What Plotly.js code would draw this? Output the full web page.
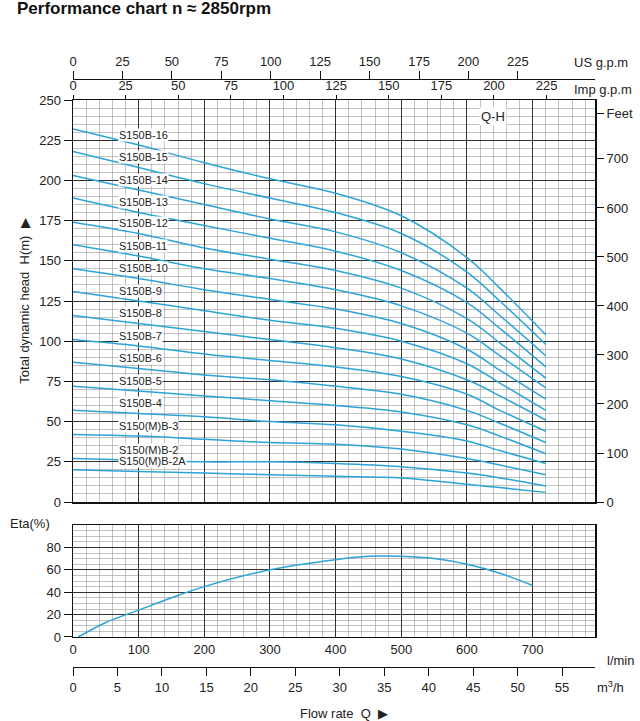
<!DOCTYPE html>
<html>
<head>
<meta charset="utf-8">
<script src="https://cdn.plot.ly/plotly-3.0.1.min.js"></script>
<style>body{margin:0;background:#fff}#chart{width:640px;height:721px}</style>
</head>
<body>
<div id="chart"></div>
<script>
// Q-H curves, flow in l/min
var flowQ = [0, 100, 200, 300, 400, 500, 600, 650, 720];
var modelNames = ['S150B-16','S150B-15','S150B-14','S150B-13','S150B-12','S150B-11','S150B-10','S150B-9',
                  'S150B-8','S150B-7','S150B-6','S150B-5','S150B-4','S150(M)B-3','S150(M)B-2','S150(M)B-2A'];
var headValues = [
    [232, 222, 211, 201, 192, 178, 152, 133, 104],
    [218, 208, 198, 189, 180, 167, 143, 125, 98],
    [203, 194, 185, 176, 168, 155, 133, 116, 91],
    [189, 180, 172, 164, 156, 144, 124, 108, 84],
    [174, 167, 158, 151, 144, 133, 114, 99, 77],
    [160, 153, 145, 139, 132, 122, 105, 91, 71],
    [145, 139, 132, 126, 120, 111, 95, 82, 64],
    [131, 125, 119, 113, 108, 100, 86, 74, 57],
    [116, 111, 106, 101, 96, 89, 76, 66, 51],
    [101, 97, 92, 88, 84, 78, 67, 57, 44],
    [87, 83, 79, 76, 72, 67, 57, 49, 37],
    [72, 69, 66, 63, 60, 56, 48, 41, 30],
    [57, 55, 53, 50, 48, 44, 38, 32, 24],
    [42, 41, 39, 37, 36, 33, 27, 23, 17],
    [27, 26, 25, 25, 24, 22, 18, 15, 10],
    [20, 19, 18, 17, 16, 15, 11, 9, 6]
];
// efficiency curve
var etaQ = [8, 50, 100, 150, 200, 300, 400, 450, 500, 550, 600, 650, 700];
var etaValues = [0, 13, 24, 35, 45, 60, 69, 72, 72, 70, 65, 57, 46];
// tick labels
var feetTicks = [0, 100, 200, 300, 400, 500, 600, 700, 793];
var feetText = ['0', '100', '200', '300', '400', '500', '600', '700', 'Feet'];
var gpmTicks = [0, 25, 50, 75, 100, 125, 150, 175, 200, 225];
var lminTicks = [0, 100, 200, 300, 400, 500, 600, 700];
var m3hTicks = [0, 5, 10, 15, 20, 25, 30, 35, 40, 45, 50, 55];
var etaTicks = [0, 20, 40, 60, 80];

var blue = '#2ba4d9';
var font = 'Liberation Sans Narrow, Liberation Sans, Arial, sans-serif';
var data = [];
var annotations = [];

modelNames.forEach(function (name, i) {
    data.push({x: flowQ, y: headValues[i], mode: 'lines', type: 'scatter', line: {color: blue, width: 1.5, shape: 'spline'}, xaxis: 'x', yaxis: 'y'});
    annotations.push({x: 68, y: headValues[i][1] + 2, xref: 'x', yref: 'y', text: name, showarrow: false,
        xanchor: 'left', yanchor: 'bottom', bgcolor: '#fff', borderpad: 0, font: {size: 11, color: '#222', family: font}});
});
data.push({x: etaQ, y: etaValues, mode: 'lines', type: 'scatter', line: {color: blue, width: 1.5, shape: 'spline'}, xaxis: 'x2', yaxis: 'y3'});
// invisible traces so the overlay axes render
data.push({x: [0], y: [0], mode: 'markers', marker: {opacity: 0}, xaxis: 'x3', yaxis: 'y', hoverinfo: 'skip'});
data.push({x: [0], y: [0], mode: 'markers', marker: {opacity: 0}, xaxis: 'x4', yaxis: 'y', hoverinfo: 'skip'});
data.push({x: [0], y: [0], mode: 'markers', marker: {opacity: 0}, xaxis: 'x', yaxis: 'y2', hoverinfo: 'skip'});
data.push({x: [0], y: [0], mode: 'markers', marker: {opacity: 0}, xaxis: 'x5', yaxis: 'y3', hoverinfo: 'skip'});

var txt = {size: 13, color: '#222', family: font};
function note(x, y, text, opts) {
    var a = {x: x, y: y, xref: 'paper', yref: 'paper', text: text, showarrow: false, font: txt, xanchor: 'left', yanchor: 'middle'};
    for (var k in opts) a[k] = opts[k];
    annotations.push(a);
}
annotations.push({x: 640, y: 240, xref: 'x', yref: 'y', text: 'Q-H', showarrow: false, bgcolor: '#fff', font: txt});
note(0.955, 0.988, 'US g.p.m');
note(0.955, 0.945, 'Imp g.p.m');
note(1.02, 0.024, 'l/min');
note(1.0, -0.02, 'm<sup>3</sup>/h');
note(0.52, -0.062, 'Flow rate  Q  ▶', {xanchor: 'center'});
note(-0.125, 0.245, 'Eta(%)');
note(-0.112, 1.075, '<b>Performance chart n ≈ 2850rpm</b>', {font: {size: 17, color: '#111', family: 'Liberation Sans, Arial'}});

var gridMinor = {dtick: 20, showgrid: true, gridcolor: '#999', gridwidth: 0.6};
var layout = {
    width: 640, height: 721,
    showlegend: false,
    paper_bgcolor: '#fff', plot_bgcolor: '#fff',
    margin: {l: 73, r: 45, t: 55, b: 46},
    font: txt,
    xaxis: {domain: [0, 1], range: [0, 795], anchor: 'y', showticklabels: false, ticks: '',
        dtick: 100, gridcolor: '#333', gridwidth: 1, minor: gridMinor, showline: true, mirror: true, linecolor: '#111', linewidth: 1.5, zeroline: false},
    yaxis: {domain: [0.279, 0.9274], range: [0, 250], dtick: 25, ticks: 'outside', ticklen: 8, tickcolor: '#111',
        gridcolor: '#333', gridwidth: 1, minor: {dtick: 5, showgrid: true, gridcolor: '#999', gridwidth: 0.6},
        showline: true, mirror: true, linecolor: '#111', linewidth: 1.5, zeroline: false,
        title: {text: 'Total dynamic head  H(m)  ▶', font: txt, standoff: 6}},
    yaxis2: {overlaying: 'y', side: 'right', range: [0, 820.2], tickvals: feetTicks, ticktext: feetText,
        ticks: 'outside', ticklen: 8, tickcolor: '#111', showgrid: false, zeroline: false},
    xaxis3: {overlaying: 'x', side: 'top', anchor: 'y', range: [0, 248], tickvals: gpmTicks, ticks: 'outside', ticklen: 4,
        tickcolor: '#111', showgrid: false, zeroline: false},
    xaxis4: {overlaying: 'x', side: 'top', anchor: 'free', position: 0.9613, range: [0, 264], tickvals: gpmTicks,
        ticks: 'outside', ticklen: 8, tickcolor: '#111', showline: true, linecolor: '#111', showgrid: false, zeroline: false},
    xaxis2: {domain: [0, 1], anchor: 'y3', range: [0, 795], tickvals: lminTicks, ticks: '',
        gridcolor: '#333', gridwidth: 1, minor: gridMinor, showline: true, mirror: true, linecolor: '#111', linewidth: 1.5, zeroline: false},
    yaxis3: {domain: [0.0613, 0.2419], range: [0, 100], tickvals: etaTicks, ticks: 'outside', ticklen: 8, tickcolor: '#111',
        gridcolor: '#333', gridwidth: 1, minor: {dtick: 5, showgrid: true, gridcolor: '#999', gridwidth: 0.6},
        showline: true, mirror: true, linecolor: '#111', linewidth: 1.5, zeroline: false},
    xaxis5: {overlaying: 'x2', side: 'bottom', anchor: 'free', position: 0.0129, range: [0, 58.7], tickvals: m3hTicks,
        ticks: 'outside', ticklen: 8, tickcolor: '#111', showline: true, linecolor: '#111', showgrid: false, zeroline: false},
    annotations: annotations
};

Plotly.newPlot('chart', data, layout, {staticPlot: true});
</script>
</body>
</html>
